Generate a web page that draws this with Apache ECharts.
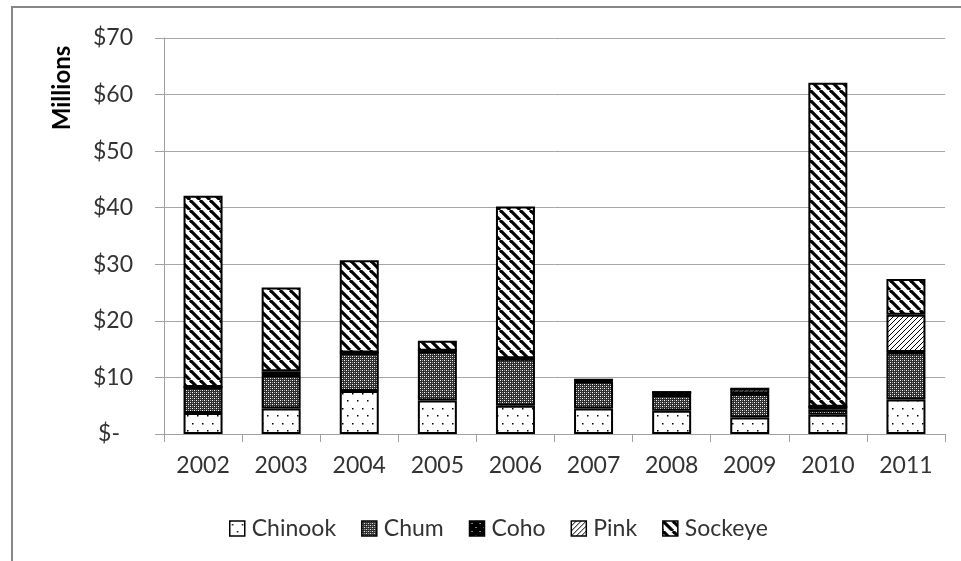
<!DOCTYPE html>
<html>
<head>
<meta charset="utf-8">
<script src="https://cdn.jsdelivr.net/npm/echarts@6/dist/echarts.min.js"></script>
<style>
  html, body { margin: 0; padding: 0; background: #fff; }
  #chart { width: 961px; height: 561px; }
</style>
</head>
<body>
<div id="chart"></div>
<script>
// Salmon harvest value by species, millions of dollars
const years = ['2002', '2003', '2004', '2005', '2006', '2007', '2008', '2009', '2010', '2011'];
const chinook = [3.7, 4.5, 7.6, 5.9, 5.0, 4.5, 4.1, 2.9, 3.4, 6.1];
const chum    = [4.5, 5.9, 6.7, 8.7, 8.3, 4.8, 2.8, 4.2, 0.9, 8.3];
const coho    = [0.1, 0.1, 0.1, 0.1, 0.1, 0.1, 0.5, 0.1, 0.5, 0.1];
const pink    = [0, 0.6, 0, 0, 0, 0.2, 0, 0.8, 0, 6.6];
const sockeye = [33.8, 14.8, 16.3, 1.8, 26.8, 0, 0, 0, 57.3, 6.3];
const yTicks  = [0, 10, 20, 30, 40, 50, 60, 70];

const FONT = 'Lato';

// --- fill patterns drawn on small canvases ---
function tile(w, h, draw) {
  const c = document.createElement('canvas');
  c.width = w; c.height = h;
  const g = c.getContext('2d');
  draw(g, w, h);
  return { image: c, repeat: 'repeat' };
}

// sparse dots
const dotFill = tile(10, 15, (g) => {
  g.fillStyle = '#fff'; g.fillRect(0, 0, 10, 15);
  g.fillStyle = '#000';
  g.fillRect(2, 3, 1.5, 1.5);
  g.fillRect(7, 10, 1.5, 1.5);
});

// dense dark texture
const darkFill = tile(4, 4, (g) => {
  g.fillStyle = '#2e2e2e'; g.fillRect(0, 0, 4, 4);
  g.fillStyle = '#ffffff';
  g.fillRect(0, 0, 1, 1);
  g.fillRect(2, 2, 1, 1);
  g.fillStyle = '#a0a0a0';
  g.fillRect(2, 0, 1, 1);
  g.fillRect(0, 2, 1, 1);
});

// solid black with a few light dots
const blackFill = tile(8, 8, (g) => {
  g.fillStyle = '#000'; g.fillRect(0, 0, 8, 8);
  g.fillStyle = '#fff';
  g.fillRect(2, 2, 1, 1);
  g.fillRect(6, 6, 1, 1);
});

// thin upward diagonals
const lightUpFill = tile(5, 5, (g) => {
  g.fillStyle = '#fff'; g.fillRect(0, 0, 5, 5);
  g.strokeStyle = '#000'; g.lineWidth = 1;
  for (let k = -5; k <= 5; k += 5) {
    g.beginPath(); g.moveTo(k, 5); g.lineTo(k + 5, 0); g.stroke();
  }
});

// wide downward diagonals
const wideDownFill = tile(10, 10, (g) => {
  g.fillStyle = '#fff'; g.fillRect(0, 0, 10, 10);
  g.strokeStyle = '#000'; g.lineWidth = 3.2;
  for (let k = -10; k <= 10; k += 10) {
    g.beginPath(); g.moveTo(k, 0); g.lineTo(k + 10, 10); g.stroke();
  }
});

function barSeries(name, data, fill) {
  return {
    name: name,
    type: 'bar',
    stack: 'total',
    barWidth: 39,
    data: data,
    itemStyle: { color: fill, borderColor: '#000', borderWidth: 2 },
    emphasis: { disabled: true }
  };
}

const chart = echarts.init(document.getElementById('chart'), null, { renderer: 'canvas' });

chart.setOption({
  animation: false,
  backgroundColor: '#fff',
  textStyle: { fontFamily: FONT },
  grid: { left: 164, right: 16, top: 38, bottom: 127, containLabel: false },
  graphic: [
    {
      type: 'rect',
      shape: { x: 12, y: 7, width: 1000, height: 700 },
      style: { fill: 'none', stroke: '#878787', lineWidth: 2 },
      silent: true, z: -10
    },
    {
      type: 'text',
      x: 62, y: 88,
      rotation: Math.PI / 2,
      style: {
        text: 'Millions',
        font: 'bold 24px ' + FONT,
        fill: '#000',
        align: 'center',
        verticalAlign: 'middle'
      }
    }
  ],
  legend: {
    left: 224,
    top: 512,
    itemWidth: 15,
    itemHeight: 15,
    itemGap: 25,
    icon: 'rect',
    itemStyle: { borderColor: '#000', borderWidth: 1.5 },
    textStyle: { fontFamily: FONT, fontSize: 23, color: '#333', padding: [0, 0, 0, 2] },
    data: ['Chinook', 'Chum', 'Coho', 'Pink', 'Sockeye']
  },
  xAxis: {
    type: 'category',
    data: years,
    axisLine: { lineStyle: { color: '#a0a0a0', width: 1 } },
    axisTick: { show: true, length: 8, lineStyle: { color: '#a0a0a0' } },
    axisLabel: { fontFamily: FONT, fontSize: 23, color: '#333', margin: 20 }
  },
  yAxis: {
    type: 'value',
    min: yTicks[0],
    max: yTicks[yTicks.length - 1],
    interval: yTicks[1] - yTicks[0],
    axisLine: { show: true, lineStyle: { color: '#a0a0a0', width: 1 } },
    axisTick: { show: true, length: 9, lineStyle: { color: '#a0a0a0' } },
    splitLine: { lineStyle: { color: '#a6a6a6', width: 1 } },
    axisLabel: {
      fontFamily: FONT, fontSize: 23, color: '#333', margin: 31,
      formatter: (v) => v === 0 ? '{z|$-}' : '$' + v,
      rich: { z: { fontFamily: FONT, fontSize: 23, color: '#333', padding: [0, 13, 0, 0] } }
    }
  },
  series: [
    barSeries('Chinook', chinook, dotFill),
    barSeries('Chum', chum, darkFill),
    barSeries('Coho', coho, blackFill),
    barSeries('Pink', pink, lightUpFill),
    barSeries('Sockeye', sockeye, wideDownFill)
  ]
});
</script>
</body>
</html>
